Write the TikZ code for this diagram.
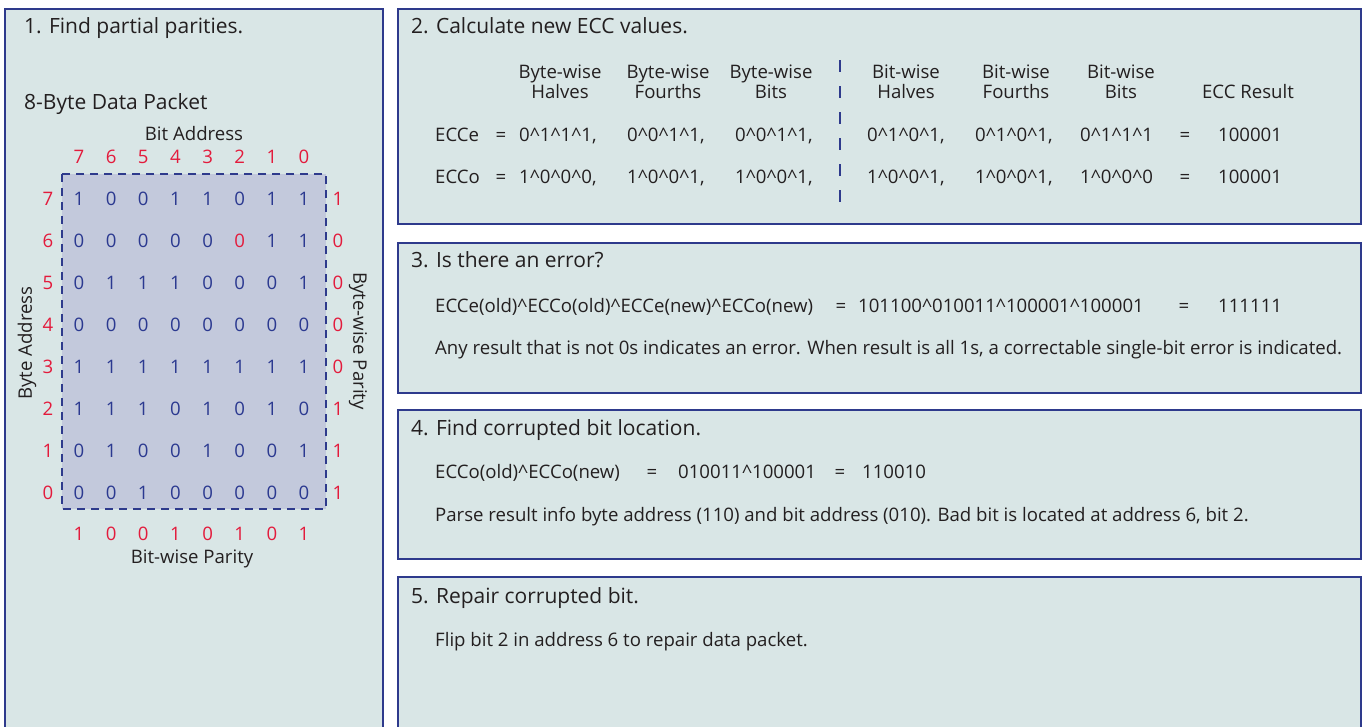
\documentclass[tikz,border=0pt]{standalone}
\usepackage{fontspec}
\setmainfont{Open Sans}
\usepackage{xcolor}
\usetikzlibrary{positioning}
\definecolor{eccFrame}{HTML}{2E3A8C}
\definecolor{eccPanel}{HTML}{D9E6E6}
\definecolor{eccGrid} {HTML}{C3C9DC}
\definecolor{eccBlue} {HTML}{2B3990}
\definecolor{eccRed}  {HTML}{E31B3C}
\definecolor{eccText} {HTML}{231F20}
\newcommand{\xorc}{\textasciicircum}
\tikzset{
  panel/.style={draw=eccFrame, fill=eccPanel, line width=1.6pt},
  txt/.style={font=\fontsize{18.6}{20}\selectfont, text=eccText, inner sep=0pt,
              text height=13.5pt, text depth=0pt},
  ttl/.style={txt, font=\fontsize{21}{24}\selectfont, anchor=west, text height=15pt},
  bitnum/.style={txt, text=eccBlue},
  idxnum/.style={txt, text=eccRed},
}
\begin{document}
\begin{tikzpicture}[x=1pt, y=-1pt]
        \useasboundingbox (0,0) rectangle (1362,726);
        % step 1: data packet
        \draw[panel] (5,9) rectangle (383,730);
        \node[ttl] (step1) at (24,26) {1. Find partial parities.};
        \node[ttl] (packet) at (24,102) {8-Byte Data Packet};
        \node[txt] (bitaddr) at (194,134) {Bit Address};
        \draw[draw=eccFrame, fill=eccGrid, line width=1.4pt, dash pattern=on 8pt off 6pt]
              (62,174) rectangle (326,509);
        \foreach \cl/\p [count=\i from 0] in {7/1, 6/0, 5/0, 4/1, 3/0, 2/1, 1/0, 0/1}{
          \node[idxnum] (col\cl) at ({79+\i*32.15}, 157) {\cl};
          \node[idxnum] (bitpar\cl) at ({79+\i*32.15}, 534) {\p};
        }
        \foreach \rw/\bits/\q in {7/{1,0,0,1,1,0,1,1}/1, 6/{0,0,0,0,0,{\color{eccRed}0},1,1}/0,
                                  5/{0,1,1,1,0,0,0,1}/0, 4/{0,0,0,0,0,0,0,0}/0,
                                  3/{1,1,1,1,1,1,1,1}/0, 2/{1,1,1,0,1,0,1,0}/1,
                                  1/{0,1,0,0,1,0,0,1}/1, 0/{0,0,1,0,0,0,0,0}/1}{
          \node[idxnum] (row\rw) at (48, {199+(7-\rw)*42}) {\rw};
          \node[idxnum] (bytepar\rw) at (338, {199+(7-\rw)*42}) {\q};
          \foreach \b [count=\i from 0] in \bits{
            \node[bitnum] (bit\rw\i) at ({79+\i*32.15}, {199+(7-\rw)*42}) {\b};
          }
        }
        \node[txt, rotate=90, text depth=4pt] (byteaddr) at (27,343) {Byte Address};
        \node[txt, rotate=-90, text depth=4pt] (bytewise) at (358,341) {Byte-wise Parity};
        \node[txt] (bitwise) at (192,557) {Bit-wise Parity};
        % step 2: new ECC values
        \draw[panel] (398,9) rectangle (1361,224);
        \node[ttl] (step2) at (411,26) {2. Calculate new ECC values.};
        \foreach \x/\h/\nm in {560/{Byte-wise\\Halves}/bh, 668/{Byte-wise\\Fourths}/bf,
                               771/{Byte-wise\\Bits}/bb, 906/{Bit-wise\\Halves}/th,
                               1016/{Bit-wise\\Fourths}/tf, 1121/{Bit-wise\\Bits}/tb}{
          \node[txt, align=center] (hd\nm) at (\x,92) {\h};
        }
        \node[txt] (hdres) at (1248,92) {ECC Result};
        \draw[eccFrame, line width=1.5pt, dash pattern=on 12pt off 14pt] (840,60) -- (840,205);
        \foreach \nm/\y/\res in {e/135/100001, o/177/100001}{
          \node[txt, anchor=west] (ecc\nm) at (435,\y) {ECC\nm};
          \node[txt] (eqa\nm) at (501,\y) {=};
          \node[txt] (eqb\nm) at (1185,\y) {=};
          \node[txt] (res\nm) at (1250,\y) {\res};
        }
        \foreach \x/\v [count=\i] in {519/0\xorc1\xorc1\xorc1{,}, 627/0\xorc0\xorc1\xorc1{,}, 735/0\xorc0\xorc1\xorc1{,},
                                      867/0\xorc1\xorc0\xorc1{,}, 975/0\xorc1\xorc0\xorc1{,}, 1080/0\xorc1\xorc1\xorc1}{
          \node[txt, anchor=west] (vale\i) at (\x,135) {\v};
        }
        \foreach \x/\v [count=\i] in {519/1\xorc0\xorc0\xorc0{,}, 627/1\xorc0\xorc0\xorc1{,}, 735/1\xorc0\xorc0\xorc1{,},
                                      867/1\xorc0\xorc0\xorc1{,}, 975/1\xorc0\xorc0\xorc1{,}, 1080/1\xorc0\xorc0\xorc0}{
          \node[txt, anchor=west] (valo\i) at (\x,177) {\v};
        }
        % step 3: error check
        \draw[panel] (398,243) rectangle (1361,393);
        \node[ttl] (step3) at (411,260) {3. Is there an error?};
        \node[txt, anchor=west] (chk) at (435,306) {ECCe(old)\xorc ECCo(old)\xorc ECCe(new)\xorc ECCo(new)};
        \node[txt] (chkeq) at (841,306) {=};
        \node[txt, anchor=west] (chkval) at (858,306) {101100\xorc010011\xorc100001\xorc100001};
        \node[txt] (chkeq2) at (1184,306) {=};
        \node[txt, anchor=west] (chkres) at (1218,306) {111111};
        \node[txt, anchor=west] (chknote) at (435,348)
              {Any result that is not 0s indicates an error. When result is all 1s, a correctable single-bit error is indicated.};
        % step 4: locate bit
        \draw[panel] (398,410) rectangle (1361,559);
        \node[ttl] (step4) at (411,428) {4. Find corrupted bit location.};
        \node[txt, anchor=west] (loc) at (435,472) {ECCo(old)\xorc ECCo(new)};
        \node[txt] (loceq) at (652,472) {=};
        \node[txt, anchor=west] (locval) at (678,472) {010011\xorc100001};
        \node[txt] (loceq2) at (840,472) {=};
        \node[txt, anchor=west] (locres) at (862,472) {110010};
        \node[txt, anchor=west] (locnote) at (435,515)
              {Parse result info byte address (110) and bit address (010). Bad bit is located at address 6, bit 2.};
        % step 5: repair
        \draw[panel] (398,577) rectangle (1361,730);
        \node[ttl] (step5) at (411,596) {5. Repair corrupted bit.};
        \node[txt, anchor=west] (fix) at (435,640) {Flip bit 2 in address 6 to repair data packet.};
      \end{tikzpicture}
\end{document}
